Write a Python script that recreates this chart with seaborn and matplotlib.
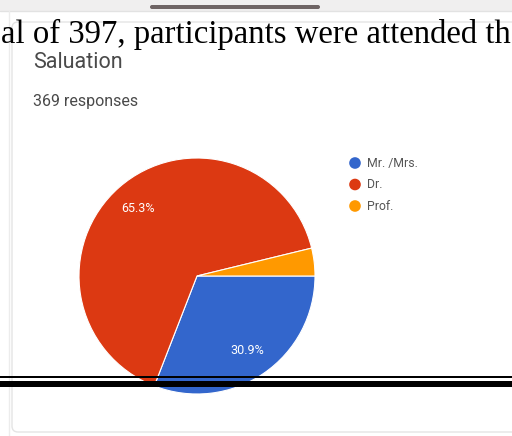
import matplotlib
matplotlib.use("Agg")
import matplotlib.pyplot as plt
import seaborn as sns
from matplotlib.patches import Rectangle, FancyBboxPatch

# data
categories = ["Mr. /Mrs.", "Dr.", "Prof."]
shares = [30.9, 65.3, 3.8]
colors = ["#3366CC", "#DC3912", "#FF9900"]
title = "Saluation"
subtitle = "369 responses"
doc_text = "al of 397, participants were attended the"

sns.set_theme(style="white")
plt.rcParams["font.family"] = ["Roboto", "DejaVu Sans"]

W, H = 512, 436
fig = plt.figure(figsize=(W / 100, H / 100), dpi=100)
fig.patch.set_facecolor("white")

# background / card layer in pixel coords
bg = fig.add_axes([0, 0, 1, 1], zorder=0)
bg.set_xlim(0, W)
bg.set_ylim(H, 0)
bg.axis("off")
bg.add_patch(Rectangle((0, 0), W, 11, color="#f0efef", lw=0))
bg.add_patch(FancyBboxPatch((150, 5), 170, 4, boxstyle="round,pad=0,rounding_size=2",
                            color="#6f6565", lw=0))
bg.plot([0, W], [11, 11], color="#e2e2e2", lw=1)
bg.plot([9, 9], [11, H], color="#ececec", lw=1)
bg.add_patch(FancyBboxPatch((12, 22), W + 20, 410, boxstyle="round,pad=0,rounding_size=6",
                            fc="white", ec="#e4e4e4", lw=1))
bg.text(33, 63, title, fontsize=15.5, color="#4a4a4a", va="center", ha="left")
bg.text(33, 101, subtitle, fontsize=11.5, color="#4a4a4a", va="center", ha="left")

# legend
for i, (cat, col) in enumerate(zip(categories, colors)):
    y = 163 + i * 21.5
    bg.scatter(355, y, s=70, color=col, edgecolors="none")
    bg.text(367, y, cat, fontsize=8.8, color="#555555", va="center", ha="left")

# pie
cx, cy, r = 197, 276, 118
ax = fig.add_axes([(cx - r) / W, (H - cy - r) / H, 2 * r / W, 2 * r / H], zorder=1)
ax.patch.set_alpha(0)
wedges, texts, autotexts = ax.pie(
    shares, colors=colors, startangle=0, counterclock=False,
    autopct=lambda p: f"{p:.1f}%" if p > 5 else "", pctdistance=0.76,
    wedgeprops=dict(edgecolor="white", linewidth=0.8),
    textprops=dict(color="white", fontsize=9),
)
ax.set_xlim(-1, 1)
ax.set_ylim(-1, 1)

# overlay layer: document text and rules
ov = fig.add_axes([0, 0, 1, 1], zorder=2)
ov.set_xlim(0, W)
ov.set_ylim(H, 0)
ov.axis("off")
ov.patch.set_alpha(0)
ov.text(1, 43, doc_text, fontsize=23.6, family="Liberation Serif", color="black",
        va="baseline", ha="left")
ov.add_patch(Rectangle((0, 376), W, 1.6, color="black", lw=0))
ov.add_patch(Rectangle((0, 380.5), W, 6.5, color="black", lw=0))

fig.savefig("out.png", dpi=100)
